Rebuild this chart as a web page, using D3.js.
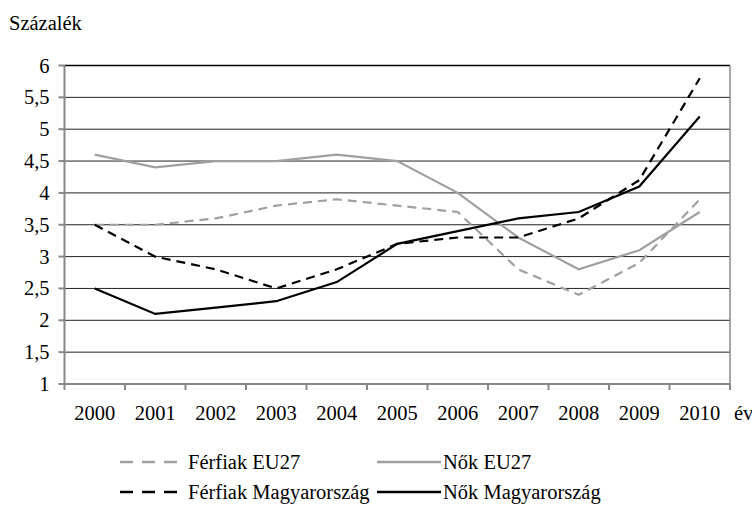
<!DOCTYPE html>
<html>
<head>
<meta charset="utf-8">
<script src="https://cdn.jsdelivr.net/npm/d3@7"></script>
</head>
<body style="margin:0;background:#fff">
<div id="chart"></div>
<script>
// Chart data
const years = ['2000', '2001', '2002', '2003', '2004', '2005', '2006', '2007', '2008', '2009', '2010'];
const ferfiakEU = [3.5, 3.5, 3.6, 3.8, 3.9, 3.8, 3.7, 2.8, 2.4, 2.9, 3.9];
const nokEU = [4.6, 4.4, 4.5, 4.5, 4.6, 4.5, 4.0, 3.3, 2.8, 3.1, 3.7];
const ferfiakHU = [3.5, 3.0, 2.8, 2.5, 2.8, 3.2, 3.3, 3.3, 3.6, 4.2, 5.8];
const nokHU = [2.5, 2.1, 2.2, 2.3, 2.6, 3.2, 3.4, 3.6, 3.7, 4.1, 5.2];
const yTicks = [1, 1.5, 2, 2.5, 3, 3.5, 4, 4.5, 5, 5.5, 6];

// Series styling
const series = [
    { name: 'Férfiak EU27', values: ferfiakEU, color: '#a0a0a0', dash: '9,6' },
    { name: 'Nők EU27', values: nokEU, color: '#a0a0a0', dash: null },
    { name: 'Férfiak Magyarország', values: ferfiakHU, color: '#000', dash: '9,6' },
    { name: 'Nők Magyarország', values: nokHU, color: '#000', dash: null }
];

const FONT = 'Liberation Serif';
const width = 752;
const height = 515;
const plot = { left: 64.5, right: 730, top: 65.5, bottom: 384 };

const svg = d3.select('#chart')
    .append('svg')
    .attr('width', width)
    .attr('height', height);

// every label goes through this so the font sticks on the text itself
function label(sel) {
    return sel.attr('font-family', FONT)
        .attr('font-size', '20.5px')
        .attr('fill', '#000');
}

const x = d3.scaleBand()
    .domain(years)
    .range([plot.left, plot.right])
    .padding(0);

const y = d3.scaleLinear()
    .domain([1, 6])
    .range([plot.bottom, plot.top]);

const fmt = d => String(d).replace('.', ',');

// Gridlines
svg.append('g')
    .selectAll('line')
    .data(yTicks.filter(d => d > 1))
    .join('line')
    .attr('x1', plot.left)
    .attr('x2', plot.right)
    .attr('y1', d => y(d))
    .attr('y2', d => y(d))
    .attr('stroke', d => d === 6 ? '#000' : '#222')
    .attr('stroke-width', d => d === 6 ? 1.5 : 1);

// Right border
svg.append('line')
    .attr('x1', plot.right)
    .attr('x2', plot.right)
    .attr('y1', plot.top)
    .attr('y2', plot.bottom)
    .attr('stroke', '#888')
    .attr('stroke-width', 1.5);

// Y axis (drawn by hand so the labels carry the font)
const yAxis = svg.append('g');
yAxis.append('line')
    .attr('x1', plot.left)
    .attr('x2', plot.left)
    .attr('y1', plot.top)
    .attr('y2', plot.bottom)
    .attr('stroke', '#888')
    .attr('stroke-width', 2);
yAxis.selectAll('.ytick')
    .data(yTicks)
    .join('line')
    .attr('class', 'ytick')
    .attr('x1', plot.left - 6)
    .attr('x2', plot.left)
    .attr('y1', d => y(d))
    .attr('y2', d => y(d))
    .attr('stroke', '#888')
    .attr('stroke-width', 2);
yAxis.selectAll('.ylabel')
    .data(yTicks)
    .join('text')
    .attr('class', 'ylabel')
    .attr('x', plot.left - 15)
    .attr('y', d => y(d) + 7)
    .attr('text-anchor', 'end')
    .call(label)
    .text(fmt);

// X axis: ticks on band boundaries
const xAxis = svg.append('g')
    .attr('transform', `translate(0,${plot.bottom})`);
xAxis.append('line')
    .attr('x1', plot.left)
    .attr('x2', plot.right)
    .attr('stroke', '#888')
    .attr('stroke-width', 2);
xAxis.selectAll('.xtick')
    .data(years.concat(['end']))
    .join('line')
    .attr('class', 'xtick')
    .attr('x1', d => d === 'end' ? plot.right : x(d))
    .attr('x2', d => d === 'end' ? plot.right : x(d))
    .attr('y1', 0)
    .attr('y2', 6)
    .attr('stroke', '#888')
    .attr('stroke-width', 2);
xAxis.selectAll('.xlabel')
    .data(years)
    .join('text')
    .attr('class', 'xlabel')
    .attr('x', d => x(d) + x.bandwidth() / 2)
    .attr('y', 36)
    .attr('text-anchor', 'middle')
    .call(label)
    .text(d => d);
xAxis.append('text')
    .attr('x', 734)
    .attr('y', 36)
    .call(label)
    .text('év');

// Y title
svg.append('text')
    .attr('x', 9)
    .attr('y', 30)
    .call(label)
    .text('Százalék');

// Lines
const line = d3.line()
    .x((d, i) => x(years[i]) + x.bandwidth() / 2)
    .y(d => y(d));

series.forEach(s => {
    svg.append('path')
        .datum(s.values)
        .attr('d', line)
        .attr('fill', 'none')
        .attr('stroke', s.color)
        .attr('stroke-width', 2.2)
        .attr('stroke-dasharray', s.dash);
});

// Legend
const legendPos = [
    { x: 120, y: 462 },
    { x: 377, y: 462 },
    { x: 120, y: 492 },
    { x: 377, y: 492 }
];

series.forEach((s, i) => {
    const p = legendPos[i];
    svg.append('line')
        .attr('x1', p.x)
        .attr('x2', p.x + 64)
        .attr('y1', p.y)
        .attr('y2', p.y)
        .attr('stroke', s.color)
        .attr('stroke-width', 2.5)
        .attr('stroke-dasharray', s.dash ? '13,9' : null);
    svg.append('text')
        .attr('x', s.dash ? p.x + 68 : p.x + 66)
        .attr('y', p.y + 7)
        .call(label)
        .text(s.name);
});
</script>
</body>
</html>
